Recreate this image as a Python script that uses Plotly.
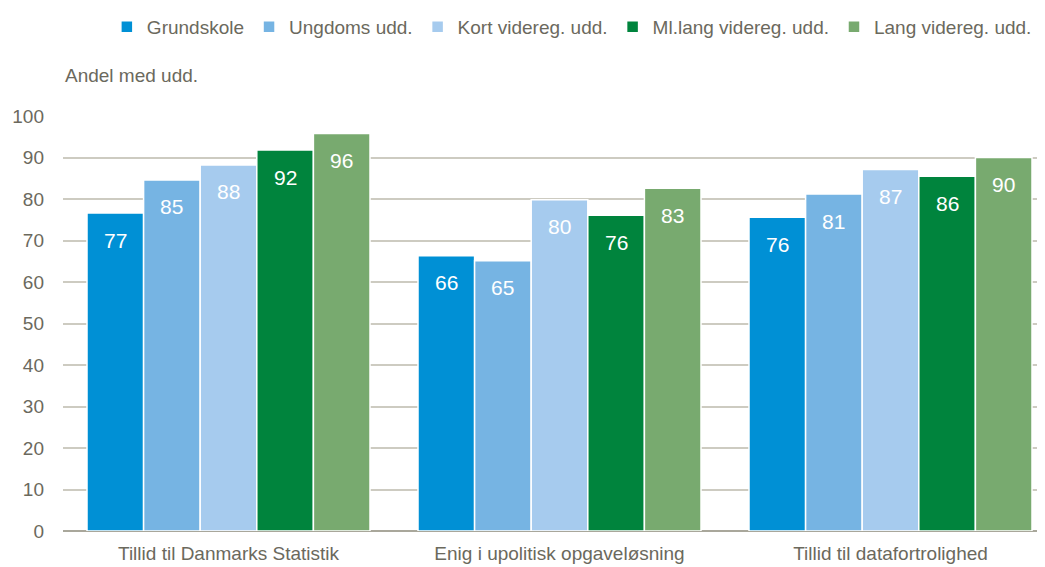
import plotly.graph_objects as go

categories = ["Tillid til Danmarks Statistik", "Enig i upolitisk opgaveløsning", "Tillid til datafortrolighed"]
series_names = ["Grundskole", "Ungdoms udd.", "Kort videreg. udd.", "Ml.lang videreg. udd.", "Lang videreg. udd."]
grundskole = [76.6, 66.3, 75.6]
ungdoms = [84.6, 65.1, 81.2]
kort = [88.2, 79.8, 87.1]
mellemlang = [91.8, 76.1, 85.5]
lang = [95.8, 82.6, 90.0]
colors = ["#0090d5", "#76b4e3", "#a6cbee", "#00843d", "#78aa6f"]

text_color = "#6b695d"
font_family = "Liberation Sans, Arial"

# page body has an 8px margin, so the figure is laid out 8px up/left
W, H = 1045, 567
margin = dict(l=55, r=0, t=108, b=44)
bargap = 0.145
x_range = [-0.5, -0.5 + (W - margin["l"] - margin["r"]) / 331]
px_per_cat = (W - margin["l"] - margin["r"]) / (x_range[1] - x_range[0])
bar_px = (1 - bargap) * px_per_cat / len(series_names)

all_series = [grundskole, ungdoms, kort, mellemlang, lang]

fig = go.Figure()
annotations = []
for i, (name, vals, col) in enumerate(zip(series_names, all_series, colors)):
    fig.add_trace(go.Bar(
        x=categories,
        y=vals,
        name=name,
        marker=dict(color=col, line=dict(color="white", width=1.5)),
        hovertemplate="%{x}<br>" + name + ": %{y:.0f}<extra></extra>",
    ))
    # value labels inside the top of each bar
    for cat, v in zip(categories, vals):
        annotations.append(dict(
            x=cat, y=v, xref="x", yref="y",
            xshift=(i - (len(series_names) - 1) / 2) * bar_px,
            yshift=-27,
            text=f"{v:.0f}",
            showarrow=False,
            font=dict(color="white", size=21, family=font_family),
        ))

annotations.append(dict(
    text="Andel med udd.",
    xref="paper", yref="paper",
    x=0, xanchor="left",
    y=(H - margin["b"] - 67) / (H - margin["t"] - margin["b"]), yanchor="middle",
    showarrow=False,
    font=dict(size=19, color=text_color),
))

fig.update_layout(
    width=W,
    height=H,
    barmode="group",
    bargap=bargap,
    bargroupgap=0,
    plot_bgcolor="white",
    paper_bgcolor="white",
    margin=margin,
    font=dict(family=font_family, color=text_color, size=19),
    legend=dict(
        orientation="h",
        x=0.514, xanchor="center",
        y=1.0, yanchor="top",
        yref="container",
        font=dict(size=19, color=text_color),
        itemwidth=30,
        traceorder="normal",
    ),
    annotations=annotations,
)

fig.update_xaxes(
    range=x_range,
    showgrid=False,
    showline=False,
    ticks="",
    automargin=False,
    ticklabelstandoff=9,
    tickfont=dict(size=19, color=text_color),
)
fig.update_yaxes(
    range=[0, 100],
    dtick=10,
    showgrid=True,
    gridcolor="#cdcbc1",
    gridwidth=1.5,
    zeroline=True,
    zerolinecolor="#a9a79b",
    zerolinewidth=1.5,
    ticks="",
    automargin=False,
    ticklabelstandoff=18,
    tickfont=dict(size=19, color=text_color),
)

fig.write_html("out.html")
